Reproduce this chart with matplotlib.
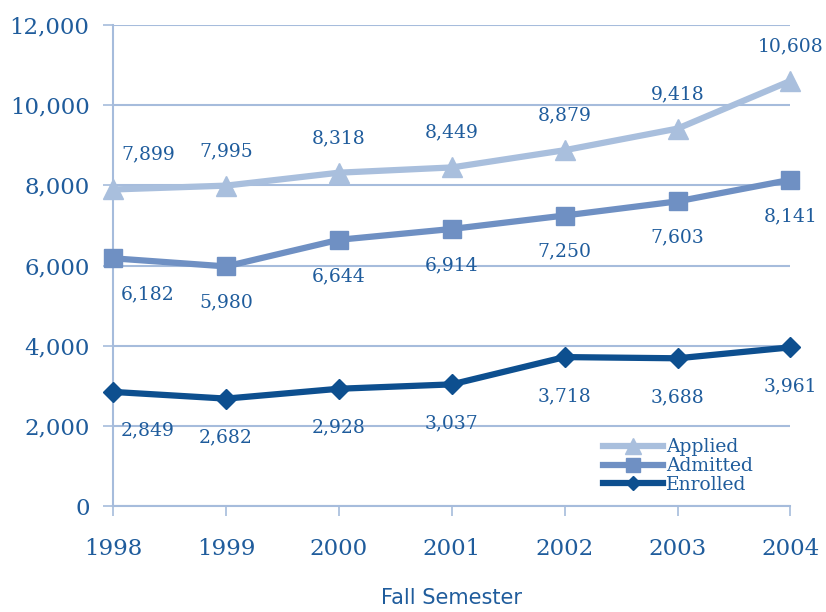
import matplotlib.pyplot as plt

years = [1998, 1999, 2000, 2001, 2002, 2003, 2004]
applied = [7899, 7995, 8318, 8449, 8879, 9418, 10608]
admitted = [6182, 5980, 6644, 6914, 7250, 7603, 8141]
enrolled = [2849, 2682, 2928, 3037, 3718, 3688, 3961]

text_c = '#1f5c9c'
grid_c = '#a6bcdc'
serif = ['DejaVu Serif']

fig = plt.figure(figsize=(8.26, 6.12), dpi=100)
ax = fig.add_axes([0.137, 0.173, 0.82, 0.786])

ax.plot(years, applied, '-^', color='#a9bfdd', lw=4.5, ms=15, label='Applied', zorder=3, clip_on=False)
ax.plot(years, admitted, '-s', color='#6f90c3', lw=4.5, ms=13, label='Admitted', zorder=3, clip_on=False)
ax.plot(years, enrolled, '-D', color='#0d4f8f', lw=4.5, ms=10, label='Enrolled', zorder=3, clip_on=False)

def label(vals, dy):
    for i, (x, v) in enumerate(zip(years, vals)):
        dx = 25 if i == 0 else 0
        ax.annotate(f'{v:,}', (x, v), xytext=(dx, dy), textcoords='offset points',
                    ha='center', va='center', color=text_c, fontsize=13.5, family=serif)

label(applied, 25)
label(admitted, -26)
label(enrolled, -28)

ax.set_xlim(1998, 2004)
ax.set_ylim(0, 12000)
ax.set_yticks(range(0, 12001, 2000))
ax.set_yticklabels([f'{v:,}' for v in range(0, 12001, 2000)])
ax.set_xticks(years)
ax.grid(axis='y', color=grid_c, lw=1.5)
for s in ['top', 'right']:
    ax.spines[s].set_visible(False)
for s in ['left', 'bottom']:
    ax.spines[s].set_color(grid_c)
    ax.spines[s].set_linewidth(1.5)
ax.tick_params(colors=grid_c, labelcolor=text_c, labelsize=16.5, length=7, width=1.2)
for t in ax.get_xticklabels() + ax.get_yticklabels():
    t.set_family(serif)
ax.tick_params(axis='x', pad=16)
ax.tick_params(axis='y', pad=10)

ax.set_xlabel('Fall Semester', color=text_c, fontsize=15, labelpad=20)

leg = ax.legend(loc='lower right', bbox_to_anchor=(0.97, -0.01), frameon=False,
                prop={'family': serif, 'size': 13.5}, labelcolor=text_c,
                handlelength=3.2, handletextpad=0.2, labelspacing=0.05, markerscale=0.75)

fig.savefig('out.png', dpi=100)
